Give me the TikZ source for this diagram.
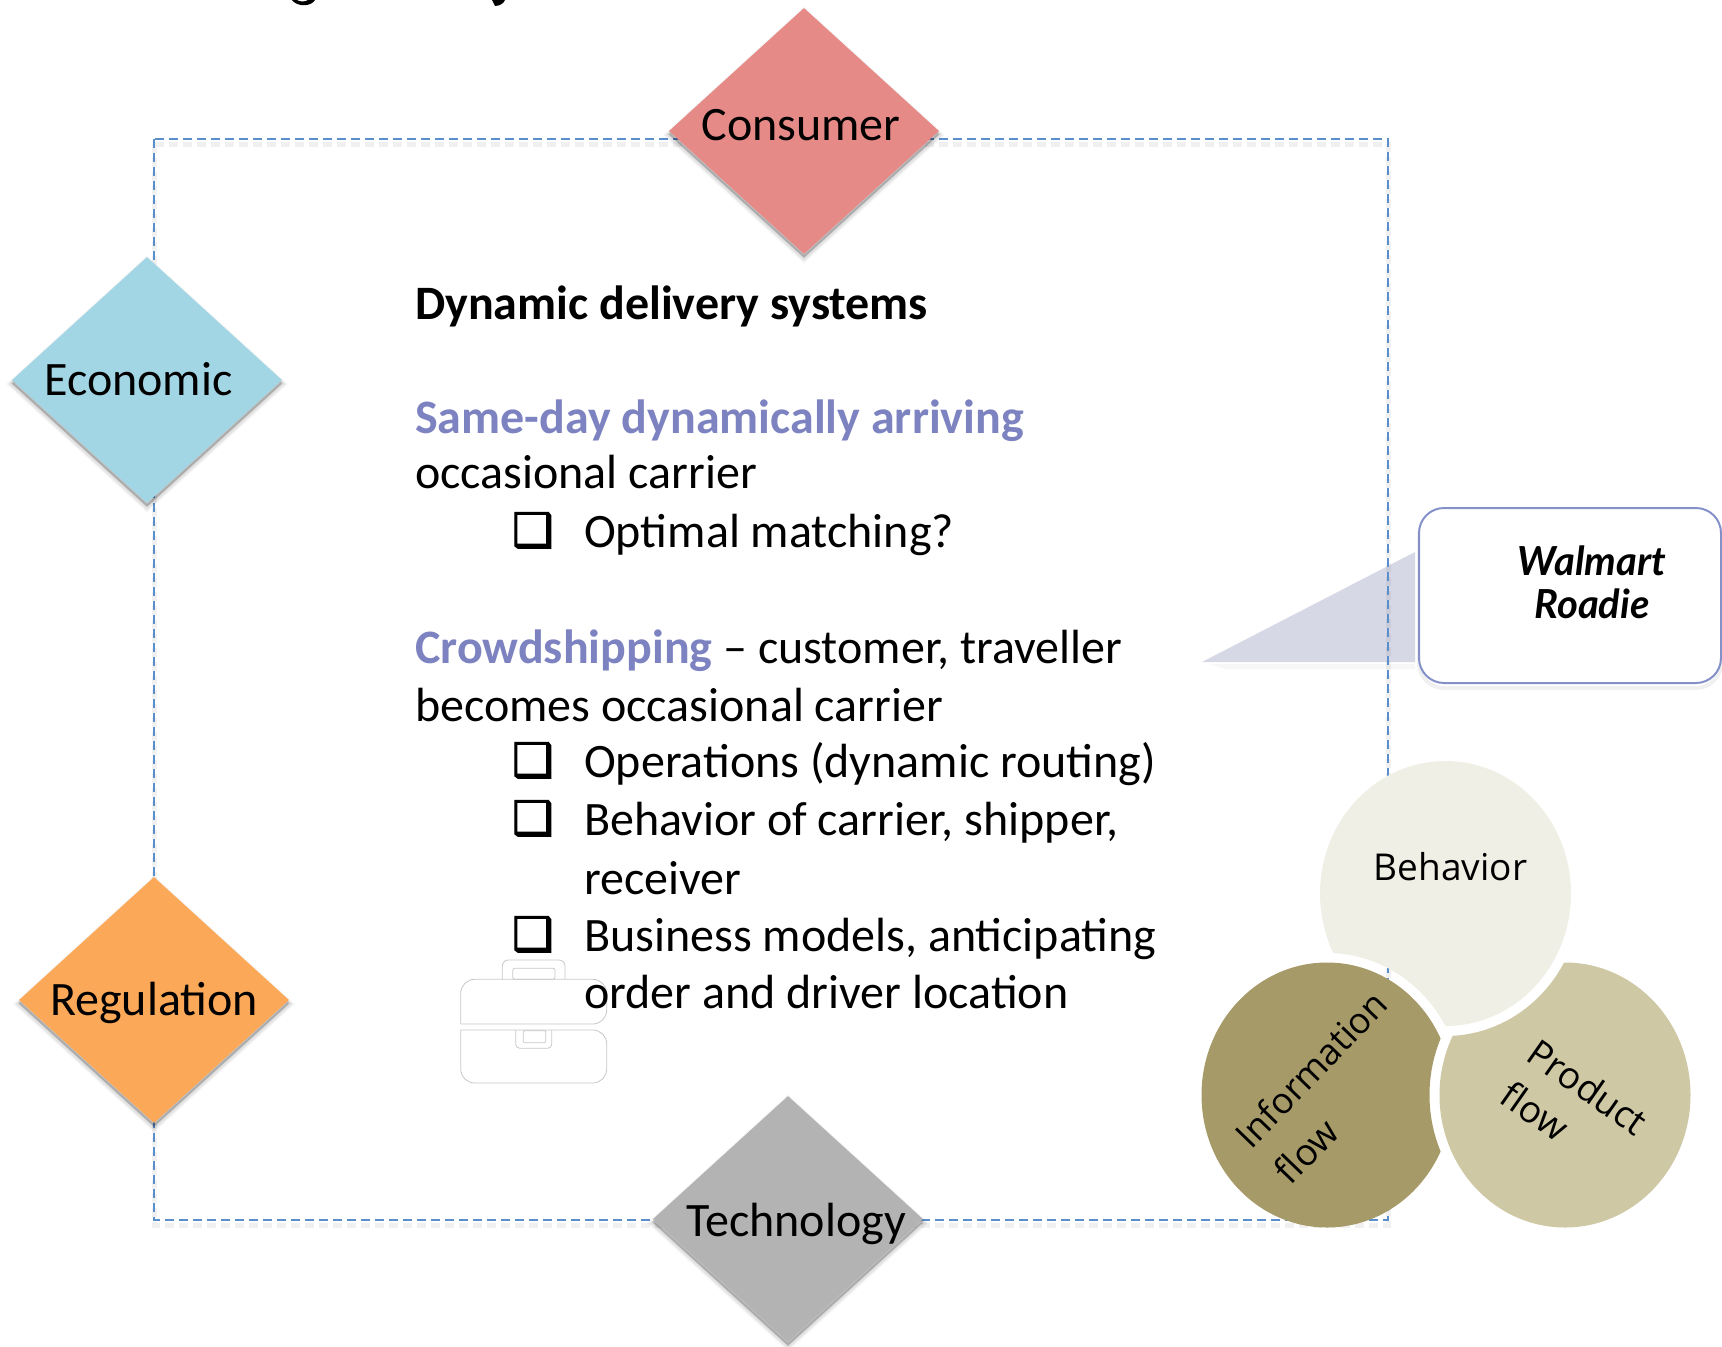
\documentclass[tikz,border=0pt]{standalone}
\usepackage{fontspec}
\setmainfont{Carlito}
\newfontfamily\bulfont[FakeBold=2.4]{DejaVu Sans}
\newfontfamily\calloutfont{Lato}
\newfontfamily\circfont{Open Sans}
\usetikzlibrary{shapes.geometric}
\definecolor{dashblue}{HTML}{5B8FCC}
\definecolor{accent}{HTML}{7C83C0}
\definecolor{consumerc}{HTML}{E68A87}
\definecolor{economicc}{HTML}{A3D6E5}
\definecolor{regulationc}{HTML}{FBA959}
\definecolor{technologyc}{HTML}{B3B3B3}
\definecolor{behaviorc}{HTML}{EFEFE6}
\definecolor{infoc}{HTML}{A69A68}
\definecolor{productc}{HTML}{CFC8A5}
\definecolor{calloutc}{HTML}{8491C9}
\definecolor{trianglec}{HTML}{D6D8E6}
\tikzset{
  softshadow/.style={
    preaction={transform canvas={yshift=-4pt},draw=black,fill=black,opacity=.04,line width=8pt},
    preaction={transform canvas={yshift=-4pt},draw=black,fill=black,opacity=.07,line width=5pt},
    preaction={transform canvas={yshift=-3pt},draw=black,fill=black,opacity=.09,line width=2pt}},
  diamondbox/.style={shape=diamond,minimum width=270pt,minimum height=246pt,inner sep=0pt,aspect=1.1,softshadow},
  diamondlabel/.style={anchor=base,inner sep=0pt,font=\fontsize{48}{48}\selectfont,text=black},
  bodytext/.style={anchor=base west,inner sep=0pt,font=\fontsize{48}{48}\selectfont,text=black},
  headtext/.style={anchor=base west,inner sep=0pt,font=\fontsize{48}{48}\selectfont\bfseries},
  bulletmark/.style={anchor=base west,inner sep=0pt,font=\fontsize{46}{46}\bulfont,text=black},
  circlebox/.style={shape=ellipse,minimum width=251pt,minimum height=265pt,inner sep=0pt},
  circlelabel/.style={inner sep=0pt,font=\fontsize{37}{37}\circfont,text=black},
  caselines/.style={draw=black!22,line width=.8pt,line join=round}
}
\begin{document}
\begin{tikzpicture}[x=1pt,y=-1pt]
\useasboundingbox (0,0) rectangle (1722,1347);
% cut-off descenders of the title
\fill (292,0) .. controls (297,7) and (311,7) .. (315,0) -- (308,0) .. controls (305,2) and (300,2) .. (297,0) -- cycle;
\fill (492,0) -- (495,6) .. controls (500,6) and (504,3) .. (505,0) -- cycle;
% callout wedge
\coordinate (wedgetip) at (1202,662);
\coordinate (wedgetop) at (1415,552);
\coordinate (wedgebot) at (1415,662);
\fill[black,opacity=.03] (1210,664) -- (1415,664) -- (1415,669) -- (1225,669) -- cycle;
\fill[trianglec] (wedgetip) -- (wedgetop) -- (wedgebot) -- cycle;
% dashed frame
\coordinate (frameA) at (154,139);
\coordinate (frameB) at (1388,1220);
\draw[black,opacity=.06,line width=5pt,dash pattern=on 9pt off 5pt,transform canvas={yshift=-5pt}] (frameA) rectangle (frameB);
\draw[dashblue,line width=2pt,dash pattern=on 9pt off 5pt] (frameA) rectangle (frameB);
% diamonds
\node[diamondbox,fill=consumerc] (consumer) at (804,131) {};
\node[diamondbox,fill=economicc] (economic) at (147,380) {};
\node[diamondbox,fill=regulationc] (regulation) at (154,1000) {};
\node[diamondbox,fill=technologyc] (technology) at (788,1219) {};
\node[diamondlabel] (consumerlab) at (801,140) {Consumer};
\node[diamondlabel] (economiclab) at (138.5,395.5) {Economic};
\node[diamondlabel] (regulationlab) at (154,1015.5) {Regulation};
\node[diamondlabel] (technologylab) at (796,1236) {Technology};
% briefcase
\draw[caselines,rounded corners=6pt] (502.3,979.3) -- (502.3,960) -- (565,960) -- (565,979.3);
\draw[caselines,rounded corners=2pt] (512.7,968.3) rectangle (555,979.3);
\draw[caselines,rounded corners=14pt] (460.7,1024) -- (460.7,979.3) -- (606.7,979.3) -- (606.7,1024) [sharp corners] -- cycle;
\draw[caselines,rounded corners=14pt] (460.7,1030) -- (460.7,1083) -- (606.7,1083) -- (606.7,1030) [sharp corners] -- cycle;
\draw[caselines,rounded corners=4pt] (515.7,1030) -- (515.7,1048.3) -- (551.7,1048.3) -- (551.7,1030);
\draw[caselines,rounded corners=1pt] (523.3,1030.7) rectangle (545.7,1042.7);
% main text
\node[headtext,text=black] (t1) at (415,319) {Dynamic delivery systems};
\node[headtext,text=accent] (t2) at (415,433) {Same-day dynamically arriving};
\node[bodytext] (t3) at (415,488.5) {occasional carrier};
\node[bulletmark] (b1) at (512,546) {❑};
\node[bodytext] (t4) at (584,547.5) {Optimal matching?};
\node[bodytext] (t5) at (415,663) {\textcolor{accent}{\textbf{Crowdshipping}} – customer, traveller};
\node[bodytext] (t6) at (415,721) {becomes occasional carrier};
\node[bulletmark] (b2) at (512,776) {❑};
\node[bodytext] (t7) at (584,777) {Operations (dynamic routing)};
\node[bulletmark] (b3) at (512,834) {❑};
\node[bodytext] (t8) at (584,835.5) {Behavior of carrier, shipper,};
\node[bodytext] (t9) at (584,894) {receiver};
\node[bulletmark] (b4) at (512,950) {❑};
\node[bodytext] (t10) at (584,951) {Business models, anticipating};
\node[bodytext] (t11) at (584,1008.5) {order and driver location};
% callout
\node[draw=calloutc,line width=2pt,fill=white,rounded corners=25pt,minimum width=302pt,minimum height=175pt,inner sep=0pt,
  preaction={transform canvas={yshift=-5pt},draw=black,opacity=.06,line width=4pt}] (callout) at (1570,595.5) {};
\node[inner sep=0pt,align=center,font=\fontsize{40}{43}\calloutfont\bfseries\itshape,text=black] (calloutlab) at (1592,582) {Walmart\\Roadie};
% circles
\coordinate (cB) at (1445.5,893.5);
\coordinate (cI) at (1327,1095);
\coordinate (cP) at (1565,1095);
\begin{scope}
  \pgfseteorule
  \clip (0,0) rectangle (1722,1347) (cI) ellipse [x radius=135.5pt,y radius=142pt];
  \node[circlebox,fill=behaviorc] (behavior) at (cB) {};
\end{scope}
\begin{scope}
  \pgfseteorule
  \clip (0,0) rectangle (1722,1347) (cP) ellipse [x radius=135.5pt,y radius=142pt];
  \node[circlebox,fill=infoc] (information) at (cI) {};
\end{scope}
\begin{scope}
  \pgfseteorule
  \clip (0,0) rectangle (1722,1347) (cB) ellipse [x radius=135.5pt,y radius=142.5pt];
  \node[circlebox,fill=productc] (product) at (cP) {};
\end{scope}
\node[circlelabel,anchor=base] (behaviorlab) at (1450.5,880) {Behavior};
\node[circlelabel,rotate=46,font=\fontsize{36}{36}\circfont] (infolab) at (1311,1069) {Information};
\node[circlelabel,rotate=46] (infolabb) at (1306,1151) {flow};
\node[circlelabel,rotate=-35] (productlab) at (1588,1087) {Product};
\node[circlelabel,rotate=-35] (productlabb) at (1535,1111) {flow};
\end{tikzpicture}
\end{document}
